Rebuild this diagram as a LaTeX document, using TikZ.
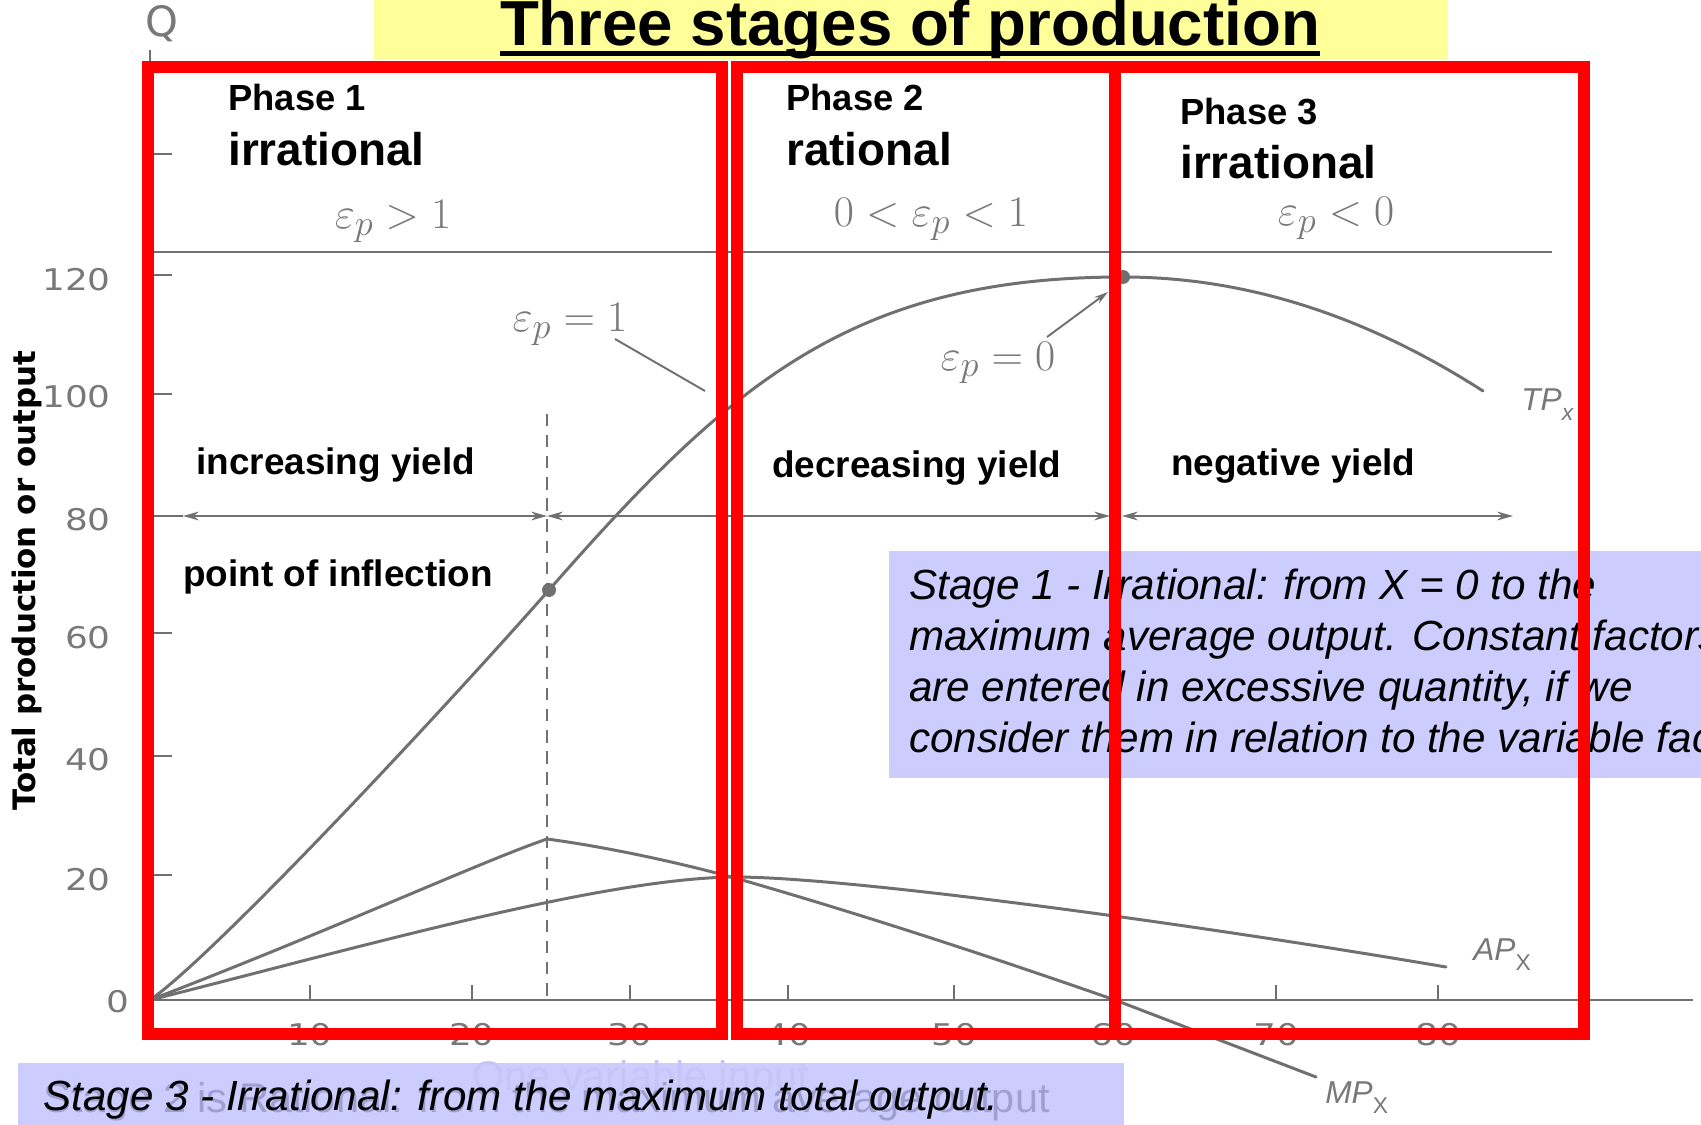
\documentclass[tikz,border=0pt]{standalone}
\usepackage{fontspec}
\setmainfont{Liberation Sans}
\newfontfamily\dejavu{DejaVu Sans}
\usetikzlibrary{arrows.meta,calc}
\definecolor{scan}{RGB}{112,112,112}
\definecolor{scantxt}{RGB}{120,120,120}
\definecolor{lav}{RGB}{204,204,255}
\definecolor{ttl}{RGB}{255,255,153}
\definecolor{ghosta}{RGB}{160,160,208}
\definecolor{ghostb}{RGB}{197,197,246}
\begin{document}
\begin{tikzpicture}[x=0.02cm,y=-0.02cm,
  ttlsty/.style={font=\fontsize{36.2}{43}\selectfont\bfseries, inner sep=0, anchor=base},
  phasesty/.style={font=\fontsize{20.7}{25}\selectfont\bfseries, inner sep=0, anchor=base west},
  bigsty/.style={font=\fontsize{26.1}{31}\selectfont\bfseries, inner sep=0, anchor=base west},
  yieldsty/.style={font=\fontsize{21}{25}\selectfont\bfseries, inner sep=0, anchor=base west},
  stagesty/.style={font=\fontsize{24}{29}\selectfont\itshape, inner sep=0, anchor=base west},
  ghoststy/.style={font=\fontsize{23.6}{28}\selectfont, inner sep=0, anchor=base west},
  numsty/.style={font=\dejavu\fontsize{17}{20}\selectfont, text=scantxt, inner sep=0},
  epssty/.style={font=\fontsize{31}{37}\selectfont, text=scantxt, inner sep=0, anchor=base},
  cvlab/.style={font=\fontsize{18}{22}\selectfont\itshape, text=scantxt, inner sep=0, anchor=base west},
  curve/.style={draw=scan, line width=1.7pt, line join=round, line cap=round},
  axisln/.style={draw=scan, line width=1.1pt},
  dbl/.style={axisln, {Stealth[length=9pt,width=5pt]}-{Stealth[length=9pt,width=5pt]}},
  redbox/.style={draw=red, line width=6.8pt}]
\useasboundingbox (0,0) rectangle (1701,1125);
\clip (0,0) rectangle (1701,1125);
\fill[white] (0,0) rectangle (1701,1125);

% title
\fill[ttl] (374,0) rectangle (1448,60);
\node[ttlsty] (title) at (910,46) {Three stages of production};
\fill ($(title.base west)+(0,5)$) rectangle ($(title.base east)+(0,10)$);

% ---- scanned graph ----
\draw[axisln] (150,1000) -- (150,50);
\draw[axisln] (150,1000) -- (1693,1000);
\node[numsty] (qlab) at (162,24) {\scalebox{1.4}{Q}};
\foreach \yy in {154,275,394,516,633,756,875} \draw[axisln] (154,\yy) -- (172,\yy);
\foreach \xx in {310,472,630,788,954,1113,1276,1438} \draw[axisln] (\xx,1000) -- (\xx,985);
\foreach \yy/\lab in {280/120,397/100,520/80,638/60,760/40,880/20}
  \node[numsty,anchor=east] (yl\lab) at (111,\yy) {\scalebox{1.2}[1]{\lab}};
\node[numsty,anchor=east] (yl0) at (130,1002) {\scalebox{1.2}[1]{0}};
\foreach \xx/\lab in {310/10,472/20,630/30,788/40,954/50,1113/60,1276/70,1438/80}
  \node[numsty] (xl\lab) at (\xx,1035) {\scalebox{1.2}[1]{\lab}};

\draw[axisln] (154,252) -- (1552,252);
\draw[axisln] (154,516) -- (183,516);
\draw[dbl] (183,516) -- (547,516);
\draw[dbl] (547,516) -- (1110,516);
\draw[dbl] (1122,516) -- (1513,516);
\draw[axisln, dash pattern=on 7pt off 5pt] (547,414) -- (547,1000);

\coordinate (orig) at (150,1000);
\coordinate (inflpt) at (549,590);
\coordinate (maxpt) at (1123,277);
\coordinate (mppeak) at (547,839);
\coordinate (apmax) at (735,877);
% TP
\draw[curve] (orig) .. controls (210,959) and (429,726) .. (inflpt)
  .. controls (729,385) and (850,277) .. (maxpt)
  .. controls (1243,277) and (1363,314) .. (1483,391);
% MP
\draw[curve] (orig) .. controls (330,931) and (480,862) .. (mppeak)
  .. controls (600,846) and (680,862) .. (749,882)
  .. controls (880,920) and (1000,960) .. (1115,1000) -- (1316,1077);
% AP
\draw[curve] (orig) .. controls (350,950) and (600,878) .. (apmax)
  .. controls (850,877) and (1200,925) .. (1446,967);
\fill[scan] (inflpt) circle (7);
\fill[scan] (maxpt) circle (7);

\node[epssty] (e1) at (393,229) {$\varepsilon_p > 1$};
\node[epssty] (e2) at (931,227) {$0 < \varepsilon_p < 1$};
\node[epssty] (e3) at (1336,226) {$\varepsilon_p < 0$};
\node[epssty] (eq1) at (570,332) {$\varepsilon_p = 1$};
\node[epssty] (eq0) at (998,370) {$\varepsilon_p = 0$};
\coordinate (p1a) at (615,339);
\coordinate (p1b) at (705,391);
\draw[axisln] (p1a) -- (p1b);
\coordinate (p0a) at (1047,337);
\coordinate (p0b) at (1108,292);
\draw[axisln,-{Stealth[length=8pt,width=4.5pt]}] (p0a) -- (p0b);

\node[cvlab] (tp) at (1521,410) {TP\raisebox{-6pt}{\fontsize{13}{15}\selectfont x}};
\node[cvlab] (ap) at (1473,960) {AP\raisebox{-6pt}{\fontsize{13}{15}\selectfont\upshape X}};
\node[cvlab] (mp) at (1325,1103) {MP\raisebox{-6pt}{\fontsize{13}{15}\selectfont\upshape X}};

% ---- slide labels ----
\node[phasesty] (ph1) at (228,111) {Phase 1};
\node[bigsty] (ir1) at (228,166) {irrational};
\node[phasesty] (ph2) at (786,111) {Phase 2};
\node[bigsty] (ra2) at (786,166) {rational};
\node[phasesty] (ph3) at (1180,125) {Phase 3};
\node[bigsty] (ir3) at (1180,179) {irrational};
\node[yieldsty] (inc) at (196,474) {increasing yield};
\node[yieldsty] (dec) at (772,477) {decreasing yield};
\node[yieldsty] (neg) at (1171,475) {negative yield};
\node[yieldsty] (poi) at (183,586) {point of inflection};

\node[rotate=90, font=\dejavu\bfseries\fontsize{17.6}{21}\selectfont, fill=white, inner sep=1pt] (ylab) at (27,581) {Total production or output};

% stage 1 box
\fill[lav] (889,551) rectangle (1720,778);
\node[stagesty] (s1a) at (909,599) {Stage 1 - Irrational: from X = 0 to the};
\node[stagesty] (s1b) at (909,650) {maximum average output. Constant factors};
\node[stagesty] (s1c) at (909,701) {are entered in excessive quantity, if we};
\node[stagesty] (s1d) at (909,752) {consider them in relation to the variable factor.};

% stage 3 box
\fill[lav] (18,1063) rectangle (1124,1130);
\node[ghoststy, text=ghostb] (g1) at (472,1090) {One variable input};
\node[ghoststy, text=ghosta] (g2) at (43,1112) {Stage 2 is Rational: from the maximum average output};
\node[stagesty] (s3) at (43,1110) {Stage 3 - Irrational: from the maximum total output.};

% red frames
\draw[redbox] (148,67) rectangle (722,1034);
\draw[redbox] (737,67) rectangle (1115,1034);
\draw[redbox] (1115,67) rectangle (1584,1034);
\end{tikzpicture}
\end{document}
